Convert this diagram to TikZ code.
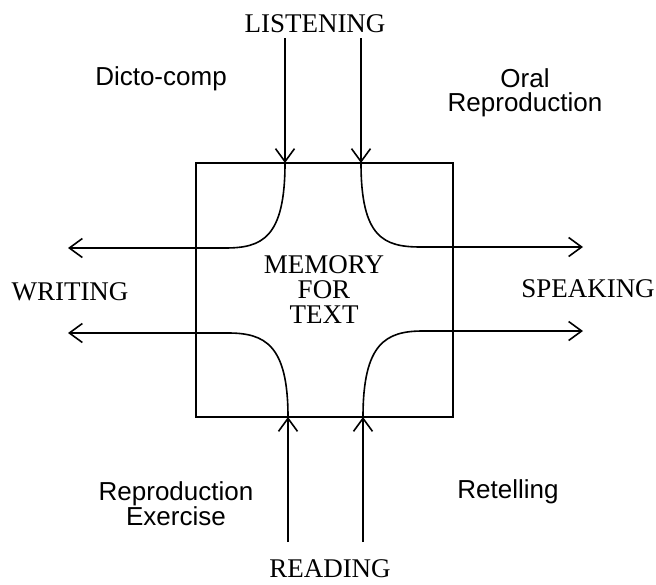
\documentclass[tikz,border=0pt]{standalone}
\usepackage{fontspec}
\setmainfont{Liberation Serif}
\setsansfont{Liberation Sans}
\usetikzlibrary{arrows.meta}
\begin{document}
\begin{tikzpicture}[x=1pt,y=-1pt,
  capsl/.style={font=\fontsize{27}{25}\selectfont, inner sep=0pt, anchor=base},
  sansl/.style={font=\sffamily\fontsize{26}{23}\selectfont, inner sep=0pt, anchor=base},
  flow/.style={line width=1.6pt, -{Straight Barb[length=13pt,width=19pt,line width=1.6pt]}},
  curve/.style={line width=1.6pt, -{Straight Barb[length=13pt,width=19pt,line width=1.6pt]}},
  boxline/.style={line width=1.3pt}]
\useasboundingbox (0,0) rectangle (656,584);
% box
\draw[boxline] (196,163) rectangle (453,417);
% labels
\node[capsl] (listen) at (315,32) {LISTENING};
\node[capsl] (read) at (330,577) {READING};
\node[capsl] (write) at (70,300) {WRITING};
\node[capsl] (speak) at (588,297) {SPEAKING};
\node[capsl, anchor=center, align=center] (mem) at (324,290) {MEMORY\\FOR\\TEXT};
\node[sansl] (dicto) at (161,85) {Dicto-comp};
\node[sansl] (oral1) at (525,87) {Oral};
\node[sansl] (oral2) at (525,111) {Reproduction};
\node[sansl] (repr1) at (176,500) {Reproduction};
\node[sansl] (repr2) at (176,525) {Exercise};
\node[sansl] (retel) at (508,498) {Retelling};
% coordinates
\coordinate (ls1) at (285,38);  \coordinate (lt1) at (285,163);
\coordinate (ls2) at (361,38);  \coordinate (lt2) at (361,163);
\coordinate (rs1) at (288,542); \coordinate (rt1) at (288,417);
\coordinate (rs2) at (363,542); \coordinate (rt2) at (363,417);
\coordinate (w1) at (68,248);   \coordinate (w2) at (68,333);
\coordinate (s1) at (583,247);  \coordinate (s2) at (583,331);
% input arrows
\draw[flow] (ls1) -- (lt1);
\draw[flow] (ls2) -- (lt2);
\draw[flow] (rs1) -- (rt1);
\draw[flow] (rs2) -- (rt2);
% curves out
\draw[curve] (lt1) .. controls (285,238) and (262,248) .. (225,248) -- (w1);
\draw[curve] (lt2) .. controls (361,238) and (384,247) .. (421,247) -- (s1);
\draw[curve] (rt1) .. controls (288,345) and (265,333) .. (228,333) -- (w2);
\draw[curve] (rt2) .. controls (363,343) and (386,331) .. (423,331) -- (s2);
\end{tikzpicture}
\end{document}
